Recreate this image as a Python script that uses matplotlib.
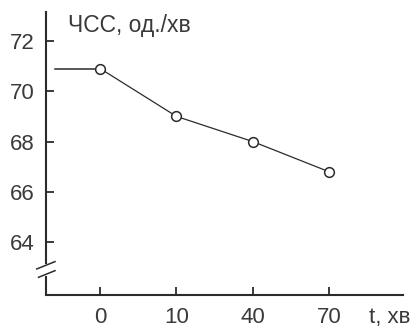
import matplotlib
matplotlib.use("Agg")
import matplotlib.pyplot as plt

# data
time_labels = ["0", "10", "40", "70"]
hr_values = [70.9, 69.0, 68.0, 66.8]
baseline_value = 70.9
y_ticks = [64, 66, 68, 70, 72]

INK = "#2b2b2b"
TXT = "#3a3a3a"
plt.rcParams["font.family"] = ["Liberation Sans", "DejaVu Sans"]

fig = plt.figure(figsize=(4.17, 3.31), dpi=100)
fig.patch.set_facecolor("white")
# axes placed in pixel terms: left 45.7, right 403, top 12, bottom 295
W, H = 417, 331
ax = fig.add_axes([45.7 / W, (H - 295) / H, (403 - 45.7) / W, (295 - 12) / H])

x = list(range(len(time_labels)))

# baseline segment before the first measurement
ax.plot([-0.59, 0], [baseline_value, baseline_value], color=INK, lw=1.1)
ax.plot(x, hr_values, color=INK, lw=0.9, marker="o", markersize=7,
        markerfacecolor="white", markeredgecolor=INK, markeredgewidth=1.1)

ax.set_xlim(-0.715, 3.97)
ax.set_ylim(61.9, 73.15)
ax.set_xticks(x)
ax.set_xticklabels(time_labels)
ax.set_yticks(y_ticks)

for s in ("top", "right"):
    ax.spines[s].set_visible(False)
for s in ("left", "bottom"):
    ax.spines[s].set_color(INK)
    ax.spines[s].set_linewidth(1.5)

# axis break on the y axis: left spine only above the break
ax.spines["left"].set_bounds(61.9 + (0.113 * (73.15 - 61.9)), 73.15)
ax.plot([0, 0], [0, 0.067], transform=ax.transAxes, color=INK, lw=1.5,
        clip_on=False, solid_capstyle="butt")
ax.plot([-0.025, 0.026], [0.092, 0.118], transform=ax.transAxes,
        color=INK, lw=1.1, clip_on=False)
ax.plot([-0.02, 0.026], [0.0625, 0.086], transform=ax.transAxes,
        color=INK, lw=1.1, clip_on=False)

ax.tick_params(axis="y", direction="in", length=6, width=1.3, color=INK,
               pad=7.7, labelsize=16, labelcolor=TXT)
ax.tick_params(axis="x", direction="in", length=5.5, width=1.3, color=INK,
               pad=8.5, labelsize=16, labelcolor=TXT)

ax.text(0.062, 0.929, "ЧСС, од./хв", transform=ax.transAxes,
        ha="left", va="baseline", fontsize=16.5, color=TXT)
ax.set_xlabel("t, хв", fontsize=16, color=TXT)
ax.xaxis.set_label_coords(0.964, -0.043)
ax.xaxis.label.set_va("top")

fig.savefig("out.png", dpi=100, facecolor="white")
